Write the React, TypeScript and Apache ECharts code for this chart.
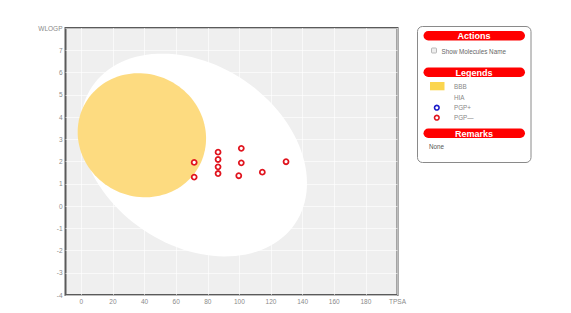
import React, { useEffect, useRef } from "react";
import * as echarts from "echarts";

// BOILED-Egg regions: [centerTPSA, centerWLOGP, u_TPSA, u_WLOGP, v_TPSA, v_WLOGP] (conjugate semi-axes, data units)
const hiaEllipse = [71.05, 2.29, 64.2, -3.08, 31.9, 3.36];
const bbbEllipse = [38.3, 3.18, 36.5, -1.35, 17.8, 2.44];

// Molecules (PGP-)
const tpsa = [71.4, 71.4, 86.5, 86.5, 86.5, 86.5, 101.2, 101.2, 99.6, 114.5, 129.5];
const wlogp = [1.96, 1.3, 2.42, 2.09, 1.76, 1.46, 2.59, 1.94, 1.36, 1.52, 1.99];

const xTicks = [0, 20, 40, 60, 80, 100, 120, 140, 160, 180, 200];
const xName = "TPSA";
const yName = "WLOGP";
const legendItems = ["BBB", "HIA", "PGP+", "PGP\u2014"];

const ellipseRenderer = (fill: string) => (params: any, api: any) => {
  const cx = api.value(0), cy = api.value(1);
  const ux = api.value(2), uy = api.value(3);
  const vx = api.value(4), vy = api.value(5);
  const pts: number[][] = [];
  const n = 120;
  for (let i = 0; i < n; i++) {
    const t = (i / n) * Math.PI * 2;
    pts.push(
      api.coord([
        cx + ux * Math.cos(t) + vx * Math.sin(t),
        cy + uy * Math.cos(t) + vy * Math.sin(t),
      ])
    );
  }
  return { type: "polygon", shape: { points: pts }, style: { fill } };
};

export default function App() {
  const ref = useRef<HTMLDivElement>(null);
  useEffect(() => {
    if (!ref.current) return;
    const chart = echarts.init(ref.current, null, { renderer: "svg" });
    const labelFont = { color: "#8a8a8a", fontSize: 6.5, fontFamily: "Liberation Sans, Arial, sans-serif" };
    const pill = (y: number, text: string) => [
      { type: "rect", shape: { x: 423.5, y, width: 101.5, height: 9.5, r: 4.75 }, style: { fill: "#FF0000" }, z: 10 },
      {
        type: "text", x: 474, y: y + 5, z: 11,
        style: { text, fill: "#fff", font: "bold 9px Liberation Sans, Arial, sans-serif", align: "center", verticalAlign: "middle" },
      },
    ];
    const txt = (x: number, y: number, text: string, fill = "#888") => ({
      type: "text", x, y, z: 11,
      style: { text, fill, font: "6.3px Liberation Sans, Arial, sans-serif", align: "left", verticalAlign: "middle" },
    });
    chart.setOption({
      animation: false,
      backgroundColor: "#fff",
      grid: {
        left: 65.5, top: 28, width: 332, height: 267,
        show: true, backgroundColor: "#EFEFEF", borderColor: "#5a5a5a", borderWidth: 2,
      },
      xAxis: {
        type: "value", min: -10, max: 200,
        axisLine: { show: false },
        axisTick: { show: false, customValues: xTicks },
        axisLabel: {
          ...labelFont, margin: 3, customValues: xTicks,
          formatter: (v: number) => (v === 200 ? xName : String(v)),
        },
        splitLine: { show: true, lineStyle: { color: "rgba(255,255,255,0.6)", width: 1 } },
      },
      yAxis: {
        type: "value", min: -4, max: 8, interval: 1,
        axisLine: { show: false },
        axisTick: { show: false },
        axisLabel: {
          ...labelFont, margin: 3,
          formatter: (v: number) => (v === 8 ? yName : String(v)),
        },
        splitLine: { show: true, lineStyle: { color: "rgba(255,255,255,0.6)", width: 1 } },
      },
      series: [
        {
          type: "custom", name: "HIA", clip: true, silent: true,
          dimensions: ["x", "y", "ux", "uy", "vx", "vy"],
          encode: { x: 0, y: 1 },
          data: [hiaEllipse],
          renderItem: ellipseRenderer("#FFFFFF"),
          z: 1,
        },
        {
          type: "custom", name: "BBB", clip: true, silent: true,
          dimensions: ["x", "y", "ux", "uy", "vx", "vy"],
          encode: { x: 0, y: 1 },
          data: [bbbEllipse],
          renderItem: ellipseRenderer("#FDDB80"),
          z: 2,
        },
        {
          type: "scatter", name: "PGP-",
          data: tpsa.map((x, i) => [x, wlogp[i]]),
          symbol: "circle", symbolSize: 5,
          itemStyle: { color: "#fff", borderColor: "#E0141E", borderWidth: 1.8, opacity: 1 },
          z: 3,
        },
      ],
      graphic: [
        {
          type: "rect", shape: { x: 417.5, y: 26.5, width: 113.5, height: 136, r: 5 },
          style: { fill: "#fff", stroke: "#8a8a8a", lineWidth: 1 }, z: 9,
        },
        ...pill(31, "Actions"),
        {
          type: "rect", shape: { x: 431.5, y: 48, width: 5, height: 5, r: 0.8 },
          style: { fill: "#eee", stroke: "#aaa", lineWidth: 0.8 }, z: 11,
        },
        txt(441.5, 51, "Show Molecules Name", "#666"),
        ...pill(67.5, "Legends"),
        { type: "rect", shape: { x: 430, y: 82, width: 14.5, height: 8.3 }, style: { fill: "#FBD54E" }, z: 11 },
        txt(454, 86.3, legendItems[0]),
        txt(454, 97.7, legendItems[1]),
        { type: "circle", shape: { cx: 436.8, cy: 107.7, r: 2.3 }, style: { fill: "#fff", stroke: "#1A1AC8", lineWidth: 1.6 }, z: 11 },
        txt(454, 107.7, legendItems[2]),
        { type: "circle", shape: { cx: 436.8, cy: 117.7, r: 2.3 }, style: { fill: "#fff", stroke: "#E0141E", lineWidth: 1.6 }, z: 11 },
        txt(454, 117.7, legendItems[3]),
        ...pill(128.5, "Remarks"),
        txt(429, 146, "None", "#555"),
      ],
    });
    return () => chart.dispose();
  }, []);
  return <div ref={ref} style={{ position: "absolute", left: 0, top: 0, width: 571, height: 313 }} />;
}
